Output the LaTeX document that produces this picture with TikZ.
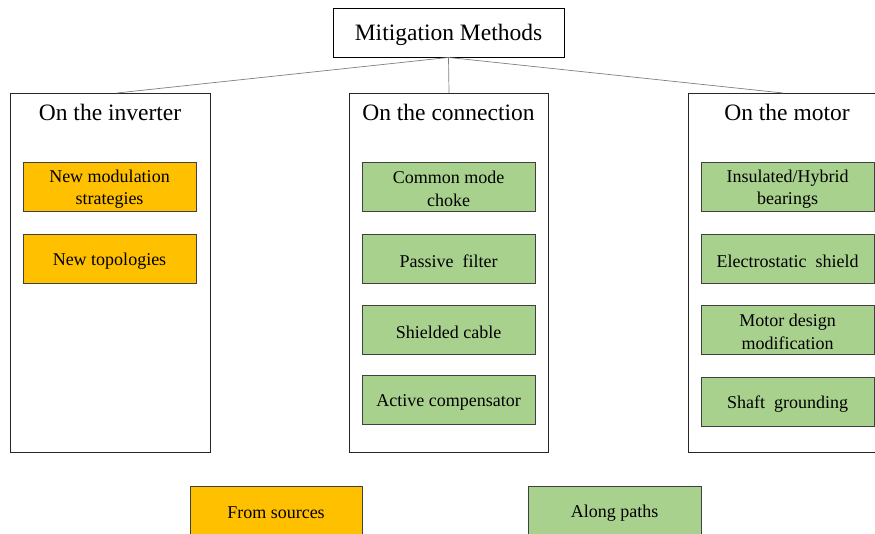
\documentclass[tikz,border=0pt]{standalone}
\usepackage{fontspec}
\setmainfont{Liberation Serif}
\definecolor{orng}{HTML}{FFC000}
\definecolor{grn}{HTML}{A9D18E}
\definecolor{conn}{HTML}{7F7F7F}
\begin{document}
\begin{tikzpicture}[x=1pt,y=-1pt,
  group/.style={draw=black!85,line width=0.8pt,fill=white},
  grouptitle/.style={font=\fontsize{23.5}{26}\selectfont,anchor=center},
  itemtext/.style={align=center,font=\fontsize{18}{22.5}\selectfont,inner sep=0pt},
  item/.style={draw=black!75,line width=0.8pt,minimum width=173pt,minimum height=49pt,inner sep=0pt,
    label={[itemtext,yshift=-2.5pt]center:{#1}}},
  orangeitem/.style={item={#1},fill=orng},
  greenitem/.style={item={#1},fill=grn},
  link/.style={draw=conn,line width=0.7pt}]
\clip (0,0) rectangle (875,534);
\useasboundingbox (0,0) rectangle (875,534);
% title
\node[draw=black,line width=0.9pt,minimum width=231pt,minimum height=49pt,
  label={[font=\fontsize{23.5}{26}\selectfont,inner sep=0pt,yshift=-2.5pt]center:Mitigation Methods}] (top) at (448.5,32.5) {};
% groups
\draw[group] (10,93) rectangle (210,452);
\draw[group] (349,93) rectangle (548,452);
\draw[group] (688,93) rectangle (888,452);
\coordinate (lt) at (117,93);
\coordinate (mt) at (449,93);
\coordinate (rt) at (783,93);
\node[grouptitle] (g1) at (110,112) {On the inverter};
\node[grouptitle] (g2) at (448.5,112) {On the connection};
\node[grouptitle] (g3) at (787,112) {On the motor};
\draw[link] (top.south) -- (lt);
\draw[link] (top.south) -- (mt);
\draw[link] (top.south) -- (rt);
% inverter
\node[orangeitem={New modulation\\strategies}] (i1) at (109.5,186.5) {};
\node[orangeitem={New topologies}] (i2) at (109.5,258.5) {};
% connection
\node[greenitem={Common mode\\choke}] (c1) at (448.5,186.5) {};
\node[greenitem={Passive\ \ filter}] (c2) at (448.5,258.5) {};
\node[greenitem={Shielded cable}] (c3) at (448.5,329.5) {};
\node[greenitem={Active compensator}] (c4) at (448.5,399.5) {};
% motor
\node[greenitem={Insulated/Hybrid\\bearings}] (m1) at (787.5,186.5) {};
\node[greenitem={Electrostatic\ \ shield}] (m2) at (787.5,258.5) {};
\node[greenitem={Motor design\\modification}] (m3) at (787.5,329.5) {};
\node[greenitem={Shaft\ \ grounding}] (m4) at (787.5,401.5) {};
% legend
\node[orangeitem={},minimum width=172pt,anchor=north west] (l1) at (190,486) {};
\node[itemtext] (l1t) at (276,513) {From sources};
\node[greenitem={},anchor=north west] (l2) at (528,486) {};
\node[itemtext] (l2t) at (614.5,513) {Along paths};
\end{tikzpicture}
\end{document}
